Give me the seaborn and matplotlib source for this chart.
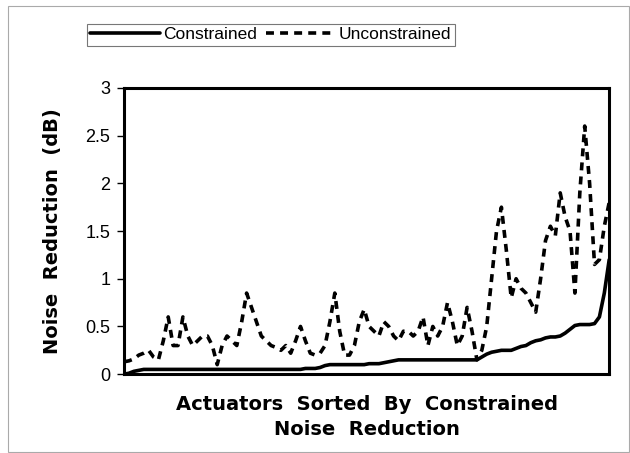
import numpy as np
import pandas as pd
import matplotlib
matplotlib.use("Agg")
import matplotlib.pyplot as plt
import seaborn as sns

# noise reduction (dB) per actuator, sorted by constrained result
constrained = [
    0.00, 0.01, 0.03, 0.04, 0.05, 0.05, 0.05, 0.05, 0.05, 0.05,
    0.05, 0.05, 0.05, 0.05, 0.05, 0.05, 0.05, 0.05, 0.05, 0.05,
    0.05, 0.05, 0.05, 0.05, 0.05, 0.05, 0.05, 0.05, 0.05, 0.05,
    0.05, 0.05, 0.05, 0.05, 0.05, 0.05, 0.05, 0.06, 0.06, 0.06,
    0.07, 0.09, 0.10, 0.10, 0.10, 0.10, 0.10, 0.10, 0.10, 0.10,
    0.11, 0.11, 0.11, 0.12, 0.13, 0.14, 0.15, 0.15, 0.15, 0.15,
    0.15, 0.15, 0.15, 0.15, 0.15, 0.15, 0.15, 0.15, 0.15, 0.15,
    0.15, 0.15, 0.15, 0.18, 0.21, 0.23, 0.24, 0.25, 0.25, 0.25,
    0.27, 0.29, 0.30, 0.33, 0.35, 0.36, 0.38, 0.39, 0.39, 0.40,
    0.43, 0.47, 0.51, 0.52, 0.52, 0.52, 0.53, 0.60, 0.85, 1.20,
]
unconstrained = [
    0.13, 0.14, 0.16, 0.20, 0.22, 0.25, 0.18, 0.15, 0.35, 0.60,
    0.30, 0.30, 0.60, 0.40, 0.30, 0.35, 0.40, 0.40, 0.30, 0.10,
    0.30, 0.40, 0.35, 0.30, 0.55, 0.85, 0.70, 0.55, 0.40, 0.35,
    0.30, 0.28, 0.25, 0.30, 0.22, 0.35, 0.50, 0.35, 0.22, 0.20,
    0.22, 0.30, 0.55, 0.85, 0.45, 0.20, 0.20, 0.30, 0.55, 0.68,
    0.50, 0.45, 0.40, 0.55, 0.50, 0.40, 0.35, 0.45, 0.45, 0.40,
    0.45, 0.60, 0.30, 0.50, 0.40, 0.50, 0.75, 0.55, 0.30, 0.40,
    0.70, 0.45, 0.15, 0.25, 0.50, 1.00, 1.50, 1.75, 1.30, 0.80,
    1.00, 0.90, 0.85, 0.75, 0.65, 1.00, 1.40, 1.55, 1.45, 1.90,
    1.65, 1.50, 0.85, 1.90, 2.60, 2.00, 1.15, 1.20, 1.55, 1.80,
]
series_names = ["Constrained", "Unconstrained"]
y_ticks = [0, 0.5, 1, 1.5, 2, 2.5, 3]
y_tick_labels = ["0", "0.5", "1", "1.5", "2", "2.5", "3"]

actuator = np.arange(len(constrained))
df = pd.DataFrame({
    "actuator": np.concatenate([actuator, actuator]),
    "reduction": constrained + unconstrained,
    "series": [series_names[0]] * len(constrained) + [series_names[1]] * len(unconstrained),
})

sns.set_style("white")
plt.rcParams["font.family"] = ["Liberation Sans", "DejaVu Sans"]
plt.rcParams["text.color"] = "black"
plt.rcParams["axes.labelcolor"] = "black"
plt.rcParams["ytick.color"] = "black"

fig = plt.figure(figsize=(6.3, 4.53), dpi=100)
ax = fig.add_axes([0.197, 0.174, 0.770, 0.632])

sns.lineplot(data=df, x="actuator", y="reduction", hue="series", style="series",
             palette=["black", "black"], dashes=[(None, None), (2.2, 1.7)],
             linewidth=2.6, ax=ax, legend=False)

ax.set_xlim(0, len(constrained) - 1)
ax.set_ylim(0, 3)
ax.set_xticks([])
ax.set_yticks(y_ticks)
ax.set_yticklabels(y_tick_labels, fontsize=13)
ax.tick_params(axis="y", direction="out", length=5, width=1, colors="black", pad=5, left=True)
for s in ax.spines.values():
    s.set_color("black")
    s.set_linewidth(2.2)

# wide bold face, like the old plotter lettering
ax.set_xlabel("Actuators  Sorted  By  Constrained\nNoise  Reduction", fontsize=14,
              fontweight="bold", family="DejaVu Sans", labelpad=15, linespacing=1.4)
ax.set_ylabel("Noise  Reduction  (dB)", fontsize=14, fontweight="bold",
              family="DejaVu Sans", labelpad=17)

# legend above the plot, in a thin box
handles = [plt.Line2D([], [], color="black", lw=2.6),
           plt.Line2D([], [], color="black", lw=2.6, dashes=(2.2, 1.7))]
leg = fig.legend(handles, series_names, loc="center", bbox_to_anchor=(0.43, 0.923),
                 ncol=2, frameon=True, fancybox=False, fontsize=12.5,
                 handlelength=4.0, handletextpad=0.2, columnspacing=0.5,
                 borderpad=0.2, borderaxespad=0)
leg.get_frame().set_edgecolor("#555555")
leg.get_frame().set_linewidth(0.8)

# faint page border from the scan
fig.patches.append(plt.Rectangle((0.013, 0.003), 0.985, 0.984, transform=fig.transFigure,
                                 fill=False, edgecolor="#aaaaaa", linewidth=0.8))

fig.savefig("out.png", dpi=100)
